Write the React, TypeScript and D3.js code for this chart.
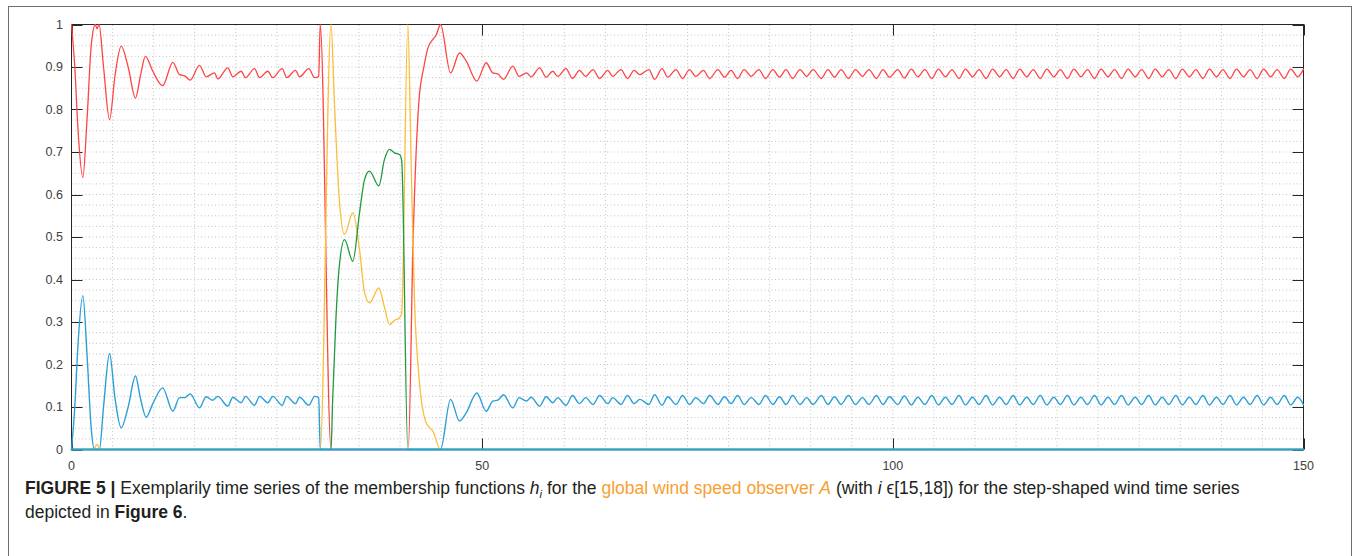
import React from 'react';
import * as d3 from 'd3';

type P = [number, number];

const xTickValues = [0, 50, 100, 150];
const xTickLabels = ['0', '50', '100', '150'];
const yTickValues = [0, 0.1, 0.2, 0.3, 0.4, 0.5, 0.6, 0.7, 0.8, 0.9, 1];
const yTickLabels = ['0', '0.1', '0.2', '0.3', '0.4', '0.5', '0.6', '0.7', '0.8', '0.9', '1'];
const xGridValues = [5, 10, 15, 20, 25, 30, 35, 40, 45, 50, 55, 60, 65, 70, 75, 80, 85, 90, 95, 100, 105, 110, 115, 120, 125, 130, 135, 140, 145];
const yGridValues = [0.025, 0.05, 0.075, 0.1, 0.125, 0.15, 0.175, 0.2, 0.225, 0.25, 0.275, 0.3, 0.325, 0.35, 0.375, 0.4, 0.425, 0.45, 0.475, 0.5, 0.525, 0.55, 0.575, 0.6, 0.625, 0.65, 0.675, 0.7, 0.725, 0.75, 0.775, 0.8, 0.825, 0.85, 0.875, 0.9, 0.925, 0.95, 0.975];

// membership function h (blue)
const hBlue: P[] = [
  [0, 0], [0.4, 0.1], [0.8, 0.25], [1.38, 0.362], [1.9, 0.22], [2.4, 0.05], [2.8, 0], [3.4, 0], [3.9, 0.1],
  [4.63, 0.226], [5.3, 0.12], [6.05, 0.051], [6.9, 0.1], [7.79, 0.173], [8.4, 0.12], [9.09, 0.076], [9.9, 0.108],
  [11.1, 0.145], [12.34, 0.09], [13.15, 0.122], [13.8, 0.122], [14.45, 0.131], [15.58, 0.098], [16.4, 0.124],
  [17.2, 0.116], [17.82, 0.125], [19.03, 0.102], [19.64, 0.123], [20.66, 0.11], [21.19, 0.125], [22.28, 0.104],
  [22.9, 0.125], [23.9, 0.11], [24.5, 0.125], [25.65, 0.104], [26.2, 0.125], [27.27, 0.108], [27.76, 0.123],
  [28.9, 0.104], [29.6, 0.125], [30.1, 0.122], [30.28, 0], [44.93, 0], [46.15, 0.118], [47.24, 0.067],
  [48.06, 0.086], [49.35, 0.133], [50.49, 0.09], [51.3, 0.114], [51.9, 0.116], [52.6, 0.129], [53.73, 0.098],
  [54.5, 0.122], [55.4, 0.114], [55.97, 0.123], [56.98, 0.102], [57.8, 0.124], [58.6, 0.11], [59.2, 0.122],
  [60.2, 0.104], [61.0, 0.127], [61.85, 0.108], [62.6, 0.122], [63.5, 0.106], [64.3, 0.127], [65.3, 0.108],
  [65.9, 0.122], [66.9, 0.106], [67.7, 0.127], [68.5, 0.108], [69.2, 0.118], [70.3, 0.106], [71.0, 0.129],
  [71.9, 0.104], [72.6, 0.124], [73.6, 0.106], [74.4, 0.127], [75.25, 0.106], [76.0, 0.122], [76.95, 0.108],
  [77.7, 0.127], [78.7, 0.106], [79.5, 0.124], [80.3, 0.108], [81.1, 0.127], [81.9, 0.106], [82.75, 0.122],
  [83.7, 0.106], [84.5, 0.127], [85.4, 0.106], [86.2, 0.124], [87.0, 0.106], [87.8, 0.127], [88.7, 0.106],
  [89.5, 0.122], [90.3, 0.106], [91.3, 0.127], [92.1, 0.106], [92.9, 0.124], [93.7, 0.106], [94.6, 0.127],
  [95.45, 0.106], [96.3, 0.122], [97.1, 0.106], [98.0, 0.127], [98.8, 0.106], [99.6, 0.124], [100.6, 0.106],
  [101.4, 0.126], [102.25, 0.105], [103.05, 0.123], [103.9, 0.106], [104.75, 0.127], [105.55, 0.105],
  [106.4, 0.123], [107.2, 0.106], [108.05, 0.127], [108.85, 0.105], [109.7, 0.123], [110.5, 0.106],
  [111.35, 0.127], [112.15, 0.105], [113.0, 0.123], [113.8, 0.106], [114.65, 0.127], [115.45, 0.105],
  [116.3, 0.123], [117.1, 0.106], [117.95, 0.127], [118.75, 0.105], [119.6, 0.123], [120.4, 0.106],
  [121.25, 0.127], [122.05, 0.105], [122.9, 0.123], [123.7, 0.106], [124.55, 0.127], [125.35, 0.105],
  [126.2, 0.123], [127.0, 0.106], [127.85, 0.127], [128.65, 0.105], [129.5, 0.123], [130.3, 0.106],
  [131.15, 0.127], [131.95, 0.105], [132.8, 0.123], [133.6, 0.106], [134.45, 0.127], [135.25, 0.105],
  [136.1, 0.123], [136.9, 0.106], [137.75, 0.127], [138.55, 0.105], [139.4, 0.123], [140.2, 0.106],
  [141.05, 0.127], [141.85, 0.105], [142.7, 0.123], [143.5, 0.106], [144.35, 0.127], [145.15, 0.105],
  [146.0, 0.123], [146.8, 0.106], [147.65, 0.127], [148.45, 0.105], [149.3, 0.123], [150, 0.105],
];

// membership function h (red)
const hRed: P[] = [
  [0, 1], [0.4, 0.9], [0.8, 0.75], [1.38, 0.64], [1.9, 0.78], [2.4, 0.95], [2.9, 1.0], [3.1, 0.99], [3.35, 1.0],
  [3.9, 0.9], [4.63, 0.776], [5.3, 0.88], [6.05, 0.949], [6.9, 0.9], [7.79, 0.827], [8.4, 0.88], [9.0, 0.925],
  [9.9, 0.89], [11.1, 0.856], [12.34, 0.911], [13.15, 0.882], [13.8, 0.879], [14.45, 0.869], [15.58, 0.904],
  [16.4, 0.877], [17.41, 0.886], [17.82, 0.872], [19.03, 0.898], [19.64, 0.877], [20.66, 0.89], [21.19, 0.875],
  [22.28, 0.896], [22.9, 0.875], [23.9, 0.89], [24.5, 0.875], [25.65, 0.896], [26.2, 0.875], [27.27, 0.892],
  [27.76, 0.877], [28.9, 0.896], [29.6, 0.875], [30.1, 0.878], [30.28, 1.0], [31.6, 0], [41.0, 0],
  [41.6, 0.5], [42.3, 0.82], [42.9, 0.9], [43.4, 0.945], [44.0, 0.965], [44.4, 0.975], [44.93, 1.0],
  [46.15, 0.886], [47.24, 0.933], [48.06, 0.914], [49.35, 0.867], [50.49, 0.91], [51.3, 0.886], [51.9, 0.884],
  [52.6, 0.871], [53.73, 0.902], [54.5, 0.878], [55.4, 0.886], [55.97, 0.877], [56.98, 0.898], [57.8, 0.876],
  [58.6, 0.89], [59.2, 0.878], [60.2, 0.896], [61.0, 0.873], [61.85, 0.892], [62.6, 0.878], [63.5, 0.894],
  [64.3, 0.873], [65.3, 0.892], [65.9, 0.878], [66.9, 0.894], [67.7, 0.873], [68.5, 0.892], [69.2, 0.882],
  [70.3, 0.894], [71.0, 0.871], [71.9, 0.896], [72.6, 0.876], [73.6, 0.894], [74.4, 0.873], [75.25, 0.894],
  [76.0, 0.878], [76.95, 0.892], [77.7, 0.873], [78.7, 0.894], [79.5, 0.876], [80.3, 0.892], [81.1, 0.873],
  [81.9, 0.894], [82.75, 0.878], [83.7, 0.894], [84.5, 0.873], [85.4, 0.894], [86.2, 0.876], [87.0, 0.894],
  [87.8, 0.873], [88.7, 0.894], [89.5, 0.878], [90.3, 0.894], [91.3, 0.873], [92.1, 0.894], [92.9, 0.876],
  [93.7, 0.894], [94.6, 0.873], [95.45, 0.894], [96.3, 0.878], [97.1, 0.894], [98.0, 0.873], [98.8, 0.894],
  [99.6, 0.876], [100.6, 0.894], [101.4, 0.874], [102.25, 0.895], [103.05, 0.877], [103.9, 0.894],
  [104.75, 0.873], [105.55, 0.895], [106.4, 0.877], [107.2, 0.894], [108.05, 0.873], [108.85, 0.895],
  [109.7, 0.877], [110.5, 0.894], [111.35, 0.873], [112.15, 0.895], [113.0, 0.877], [113.8, 0.894],
  [114.65, 0.873], [115.45, 0.895], [116.3, 0.877], [117.1, 0.894], [117.95, 0.873], [118.75, 0.895],
  [119.6, 0.877], [120.4, 0.894], [121.25, 0.873], [122.05, 0.895], [122.9, 0.877], [123.7, 0.894],
  [124.55, 0.873], [125.35, 0.895], [126.2, 0.877], [127.0, 0.894], [127.85, 0.873], [128.65, 0.895],
  [129.5, 0.877], [130.3, 0.894], [131.15, 0.873], [131.95, 0.895], [132.8, 0.877], [133.6, 0.894],
  [134.45, 0.873], [135.25, 0.895], [136.1, 0.877], [136.9, 0.894], [137.75, 0.873], [138.55, 0.895],
  [139.4, 0.877], [140.2, 0.894], [141.05, 0.873], [141.85, 0.895], [142.7, 0.877], [143.5, 0.894],
  [144.35, 0.873], [145.15, 0.895], [146.0, 0.877], [146.8, 0.894], [147.65, 0.873], [148.45, 0.895],
  [149.3, 0.877], [150, 0.895],
];

// membership function h (yellow)
const hYellow: P[] = [
  [0, 0], [2.7, 0], [3.1, 0.012], [3.5, 0], [30.28, 0], [31.6, 1], [32.0, 0.82], [32.6, 0.59], [33.24, 0.506],
  [34.25, 0.557], [35.07, 0.47], [35.68, 0.369], [36.28, 0.345], [37.42, 0.38], [38.1, 0.335], [38.72, 0.294],
  [39.33, 0.304], [39.94, 0.31], [40.2, 0.32], [40.95, 1.0], [41.36, 0.667], [41.76, 0.353], [42.37, 0.157],
  [43.18, 0.063], [44.0, 0.043], [44.93, 0], [150, 0],
];

// membership function h (green)
const hGreen: P[] = [
  [0, 0], [31.6, 0], [31.8, 0.118], [32.2, 0.31], [32.6, 0.43], [33.24, 0.494], [34.25, 0.443], [35.07, 0.557],
  [35.68, 0.635], [36.28, 0.655], [37.42, 0.62], [38.1, 0.682], [38.72, 0.706], [39.33, 0.698], [39.94, 0.694],
  [40.2, 0.68], [40.95, 0], [150, 0],
];

// remaining membership function (stays at zero)
const hZero: P[] = [[0, 0], [150, 0]];

const series: { data: P[]; color: string; width: number }[] = [
  { data: hBlue, color: '#2ba0d8', width: 1.4 },
  { data: hRed, color: '#ff4444', width: 1.3 },
  { data: hYellow, color: '#fbbd3a', width: 1.3 },
  { data: hGreen, color: '#1f9a3e', width: 1.3 },
  { data: hZero, color: '#2ba0d8', width: 1.8 },
];

export default function App() {
  const x = d3.scaleLinear().domain([0, 150]).range([71.5, 1303.5]);
  const y = d3.scaleLinear().domain([0, 1]).range([449.5, 24.5]);
  const line = d3
    .line<P>()
    .x((d) => x(d[0]))
    .y((d) => y(d[1]))
    .curve(d3.curveMonotoneX);
  const tickLen = 11;
  const labelFont = "'Liberation Sans', Arial, Helvetica, sans-serif";
  const capFill = '#231f20';
  const orange = '#f7a033';

  return (
    <svg
      width={1354}
      height={556}
      style={{ position: 'absolute', left: 0, top: 0, background: '#fff' }}
    >
      <rect x={0} y={0} width={1354} height={556} fill="#fff" />
      <rect x={8.5} y={6.5} width={1343} height={600} fill="none" stroke="#6e6e6e" strokeWidth={1} />

      {/* grid */}
      <g stroke="#c4c4c4" strokeWidth={1} strokeDasharray="1,2.5">
        {xGridValues.map((v) => (
          <line key={'gx' + v} x1={x(v)} x2={x(v)} y1={y(0)} y2={y(1)} />
        ))}
        {yGridValues.map((v) => (
          <line key={'gy' + v} x1={x(0)} x2={x(150)} y1={y(v)} y2={y(v)} />
        ))}
      </g>

      {/* ticks */}
      <g stroke="#262626" strokeWidth={1}>
        {yTickValues.map((v) => (
          <g key={'ty' + v}>
            <line x1={x(0)} x2={x(0) + tickLen} y1={Math.round(y(v)) + 0.5} y2={Math.round(y(v)) + 0.5} />
            <line x1={x(150)} x2={x(150) - tickLen} y1={Math.round(y(v)) + 0.5} y2={Math.round(y(v)) + 0.5} />
          </g>
        ))}
        {xTickValues.map((v) => (
          <g key={'tx' + v}>
            <line x1={Math.round(x(v)) + 0.5} x2={Math.round(x(v)) + 0.5} y1={y(0)} y2={y(0) - tickLen} />
            <line x1={Math.round(x(v)) + 0.5} x2={Math.round(x(v)) + 0.5} y1={y(1)} y2={y(1) + tickLen} />
          </g>
        ))}
      </g>

      {/* box */}
      <rect
        x={x(0)}
        y={y(1)}
        width={x(150) - x(0)}
        height={y(0) - y(1)}
        fill="none"
        stroke="#262626"
        strokeWidth={1}
      />

      {/* series */}
      <g fill="none" strokeLinejoin="round" strokeLinecap="round">
        {series.map((s, i) => (
          <path key={'s' + i} d={line(s.data) || ''} stroke={s.color} strokeWidth={s.width} />
        ))}
      </g>

      {/* tick labels */}
      <g fontFamily={labelFont} fontSize={12.5} fill="#404040">
        {yTickValues.map((v, i) => (
          <text key={'ly' + v} x={63} y={y(v)} textAnchor="end" dominantBaseline="central">
            {yTickLabels[i]}
          </text>
        ))}
        {xTickValues.map((v, i) => (
          <text key={'lx' + v} x={x(v)} y={466} textAnchor="middle" dominantBaseline="central">
            {xTickLabels[i]}
          </text>
        ))}
      </g>

      {/* caption */}
      <g fontFamily={labelFont} fontSize={17.5} fill={capFill}>
        <text x={25} y={494}>
          <tspan fontWeight="bold">FIGURE 5 | </tspan>
          <tspan>Exemplarily time series of the membership functions </tspan>
          <tspan fontStyle="italic">h</tspan>
          <tspan fontStyle="italic" fontSize={11.5} dy={4}>i</tspan>
          <tspan dy={-4}> for the </tspan>
          <tspan fill={orange}>global wind speed observer </tspan>
          <tspan fill={orange} fontStyle="italic">A</tspan>
          <tspan> (with </tspan>
          <tspan fontStyle="italic">i</tspan>
          <tspan> ϵ[15,18]) for the step-shaped wind time series</tspan>
        </text>
        <text x={25} y={518}>
          <tspan>depicted in </tspan>
          <tspan fontWeight="bold">Figure 6</tspan>
          <tspan>.</tspan>
        </text>
      </g>
    </svg>
  );
}
